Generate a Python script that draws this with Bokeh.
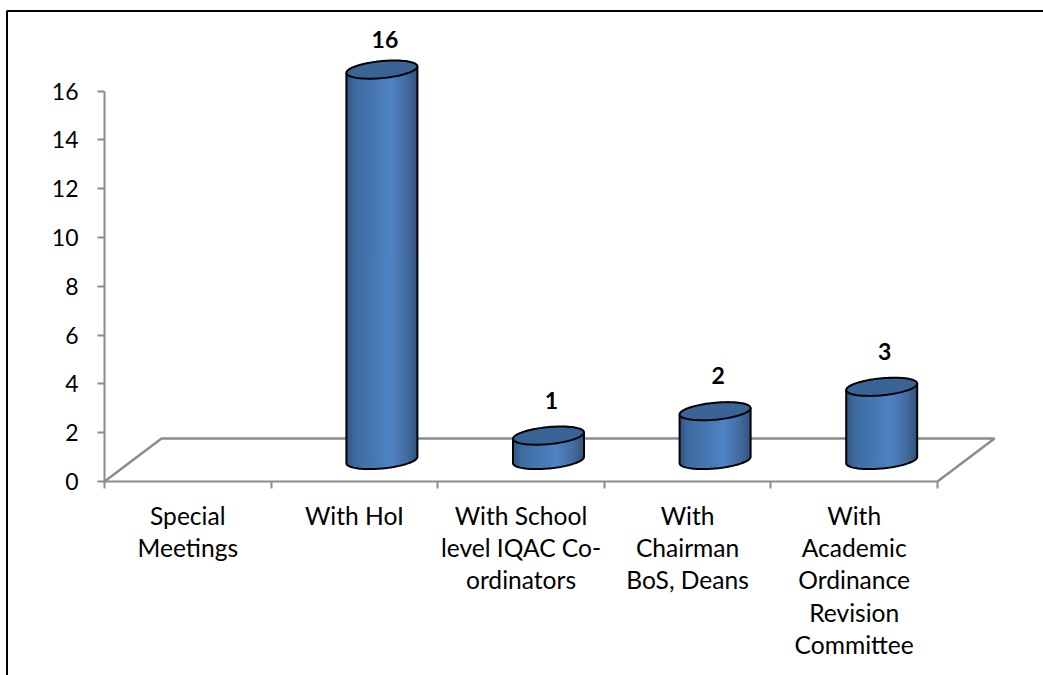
import numpy as np
from bokeh.core.properties import value
from bokeh.embed import file_html
from bokeh.models import BoxAnnotation, FixedTicker, LinearAxis, Range1d
from bokeh.plotting import figure
from bokeh.resources import INLINE

categories = [
    "Special\nMeetings",
    "With HoI",
    "With School\nlevel IQAC Co-\nordinators",
    "With\nChairman\nBoS, Deans",
    "With\nAcademic\nOrdinance\nRevision\nCommittee",
]
meetings = [0, 16, 1, 2, 3]
y_ticks = [0, 2, 4, 6, 8, 10, 12, 14, 16]
label_lift = [0, 30, 35, 36, 35]

FONT = "Lato"
AXIS_GREY = "#8c8c8c"
W, H = 1043, 675
LEFT, BASE = 104, 481
SLOT_PX, UNIT_PX = 166.6, 24.4
DEPTH_X, DEPTH_Y = 55 / SLOT_PX, 43 / UNIT_PX  # bar offset in data units
FLOOR_X = 57 / SLOT_PX
RX, RY, SHEAR = 35.5 / SLOT_PX, 8.5 / UNIT_PX, 3.2 / UNIT_PX

# The frame fills the page; both axes are pinned at the data origin
p = figure(
    width=W, height=H, output_backend="svg", toolbar_location=None,
    x_range=Range1d(-LEFT / SLOT_PX, (W - LEFT) / SLOT_PX),
    y_range=Range1d(-(H - BASE) / UNIT_PX, BASE / UNIT_PX),
    x_axis_type=None, y_axis_type=None,
    min_border=0, outline_line_color=None,
)
p.grid.visible = False

# Value axis
y_axis = LinearAxis(
    fixed_location=0,
    ticker=FixedTicker(ticks=y_ticks), bounds=(0, 16),
    axis_line_color=AXIS_GREY, axis_line_width=2,
    major_tick_line_color=AXIS_GREY, major_tick_line_width=2,
    major_tick_in=0, major_tick_out=7, minor_tick_line_color=None,
    major_label_text_font=FONT, major_label_text_font_size="23px",
    major_label_text_color="#000000", major_label_standoff=19,
)
p.add_layout(y_axis, "left")

# Category axis: labels sit on slot centres, tick marks on slot boundaries
centres = [i + 0.5 for i in range(len(categories))]
x_axis = LinearAxis(
    fixed_location=0,
    ticker=FixedTicker(ticks=centres, minor_ticks=list(range(len(categories) + 1))),
    bounds=(0, len(categories)),
    major_label_overrides={c: t for c, t in zip(centres, categories)},
    axis_line_color=AXIS_GREY, axis_line_width=2,
    major_tick_line_color=None, major_tick_in=0, major_tick_out=0,
    minor_tick_line_color=AXIS_GREY, minor_tick_line_width=2,
    minor_tick_in=0, minor_tick_out=7,
    major_label_text_font=FONT, major_label_text_font_size="24.6px",
    major_label_text_line_height=1.118,
    major_label_text_color="#000000", major_label_standoff=12,
)
p.add_layout(x_axis, "below")

# Perspective floor
n = len(categories)
p.line([0, FLOOR_X, n + FLOOR_X, n], [0, DEPTH_Y, DEPTH_Y, 0],
       line_color=AXIS_GREY, line_width=2.5)


def shade(t):
    """Horizontal cylinder shading, t running 0..1 from left to right."""
    stops = [0.0, 0.12, 0.62, 0.85, 1.0]
    r = np.interp(t, stops, [48, 62, 80, 68, 50])
    g = np.interp(t, stops, [84, 108, 131, 108, 84])
    b = np.interp(t, stops, [128, 160, 197, 160, 124])
    return "#%02x%02x%02x" % (int(r), int(g), int(b))


def arc(cx, cy, ang):
    return cx + RX * np.cos(ang), cy + RY * np.sin(ang) + SHEAR * np.cos(ang)


def low_edge(u):
    return base_y - RY * np.sqrt(1 - u**2) + SHEAR * u


base_y = DEPTH_Y / 2
for i, v in enumerate(meetings):
    if v == 0:
        continue
    cx = i + 0.5 + DEPTH_X / 2
    top_y = base_y + v

    # Body painted left to right: each strip runs to the right edge and the next
    # one covers it, so neighbouring strips never leave a light seam
    strips = 71
    stops = np.linspace(-1, 1, strips + 1)
    xs, ys, cols = [], [], []
    for k in range(strips):
        us = np.linspace(stops[k], 1, strips + 1 - k)
        lower = low_edge(us)
        upper = top_y + SHEAR * us
        xs.append(np.concatenate([cx + RX * us, cx + RX * us[::-1]]))
        ys.append(np.concatenate([lower, upper[::-1]]))
        cols.append(shade((k + 0.5) / strips))
    p.patches(xs, ys, fill_color=cols, line_color=None)

    # Outline of the sides and the near rim of the base
    ang = np.linspace(np.pi, 2 * np.pi, 60)
    ox, oy = arc(cx, base_y, ang)
    outline_x = [cx - RX, *ox, cx + RX]
    outline_y = [top_y - SHEAR, *oy, top_y + SHEAR]
    p.line(outline_x, outline_y, line_color="#000000", line_width=2)

    # Top cap
    ang = np.linspace(0, 2 * np.pi, 90)
    tx, ty = arc(cx, top_y, ang)
    p.patch(tx, ty, fill_color="#3a6396", line_color="#000000", line_width=2)

    p.text([cx], [top_y], text=[str(v)], text_font=value(FONT), text_font_style="bold",
           text_font_size="23px", text_align="center", text_baseline="middle",
           text_color="#000000", x_offset=3, y_offset=-label_lift[i])

# Page frame, running off the right and bottom edges
p.add_layout(BoxAnnotation(left=6.5, right=W + 20, top=10.5, bottom=H + 20,
                           left_units="canvas", right_units="canvas",
                           top_units="canvas", bottom_units="canvas",
                           fill_color=None, line_color="#000000", line_alpha=1.0,
                           line_width=2))

open("out.html", "w").write(file_html(p, INLINE))
